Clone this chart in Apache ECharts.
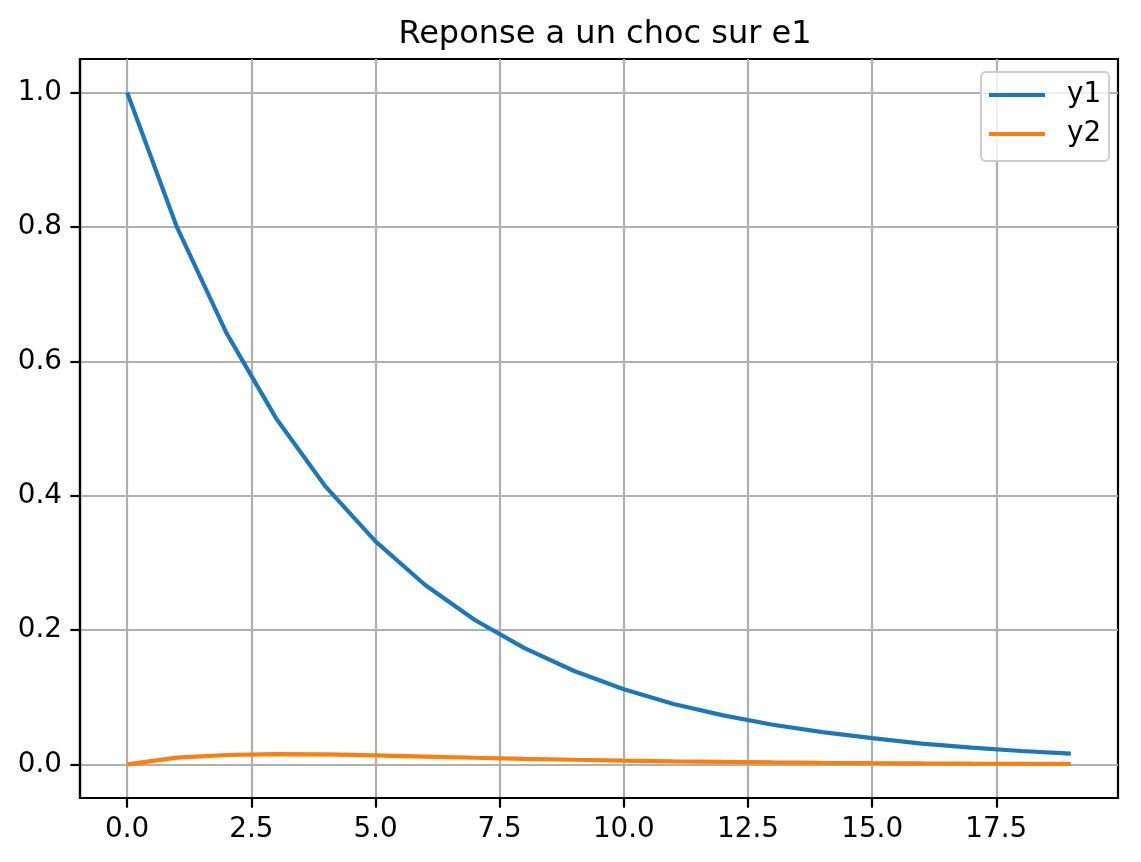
<!DOCTYPE html>
<html>
<head>
<meta charset="utf-8">
<script src="https://cdn.jsdelivr.net/npm/echarts@6/dist/echarts.min.js"></script>
<style>
html,body{margin:0;padding:0;background:#fff;}
#c{width:1141px;height:862px;}
</style>
</head>
<body>
<div id="c"></div>
<script>
const steps = [0,1,2,3,4,5,6,7,8,9,10,11,12,13,14,15,16,17,18,19];
const y1 = [1.0,0.8,0.642,0.515,0.413,0.332,0.267,0.215,0.173,0.139,0.112,0.090,0.073,0.059,0.048,0.039,0.031,0.025,0.020,0.016];
const y2 = [0,0.010,0.014,0.0152,0.0148,0.0133,0.0116,0.0099,0.0083,0.0069,0.0056,0.0046,0.0037,0.0030,0.0024,0.0019,0.0015,0.0012,0.0010,0.0008];
const xTicks = [0,2.5,5,7.5,10,12.5,15,17.5];
const yTicks = [0,0.2,0.4,0.6,0.8,1.0];
const title = 'Reponse a un choc sur e1';
const seriesNames = ['y1','y2'];

const font = 'DejaVu Sans';
const chart = echarts.init(document.getElementById('c'), null, {renderer:'canvas'});
chart.setOption({
  animation:false,
  backgroundColor:'#ffffff',
  title:{
    text:title, left:'600', top:14, textAlign:'center',
    textStyle:{fontFamily:font, fontSize:32, fontWeight:'normal', color:'#000'}
  },
  grid:{left:80, top:59, width:1038, height:739, show:true, borderColor:'#000', borderWidth:2.2, backgroundColor:'transparent', containLabel:false},
  legend:{
    orient:'vertical', left:981, top:72,
    data:seriesNames,
    icon:'rect', itemWidth:56, itemHeight:4, itemGap:11,
    padding:[9,8,13,8],
    borderColor:'#cccccc', borderWidth:2, borderRadius:5, backgroundColor:'rgba(255,255,255,0.8)',
    textStyle:{fontFamily:font, fontSize:27.8, color:'#000', padding:[0,0,0,17]}
  },
  xAxis:{
    type:'value', min:-0.95, max:19.95,
    axisLine:{show:true, onZero:false, lineStyle:{color:'#000', width:2.2}},
    axisTick:{show:true, length:9.7, inside:false, lineStyle:{color:'#000', width:2.2}, customValues:xTicks},
    axisLabel:{fontFamily:font, fontSize:27.8, color:'#000', margin:18, customValues:xTicks, formatter:v=>v.toFixed(1)},
    splitLine:{show:true, lineStyle:{color:'#b0b0b0', width:2.2}}
  },
  yAxis:{
    type:'value', min:-0.05, max:1.05,
    axisLine:{show:true, onZero:false, lineStyle:{color:'#000', width:2.2}},
    axisTick:{show:true, length:9.7, inside:false, lineStyle:{color:'#000', width:2.2}, customValues:yTicks},
    axisLabel:{fontFamily:font, fontSize:27.8, color:'#000', margin:18, customValues:yTicks, formatter:v=>v.toFixed(1)},
    splitLine:{show:true, lineStyle:{color:'#b0b0b0', width:2.2}}
  },
  series:[
    {name:seriesNames[0], type:'line', data:steps.map((s,i)=>[s,y1[i]]), showSymbol:false, symbol:'none',
     lineStyle:{color:'#1f77b4', width:4.2}, itemStyle:{color:'#1f77b4'}, z:3},
    {name:seriesNames[1], type:'line', data:steps.map((s,i)=>[s,y2[i]]), showSymbol:false, symbol:'none',
     lineStyle:{color:'#ff7f0e', width:4.2}, itemStyle:{color:'#ff7f0e'}, z:4}
  ]
});
</script>
</body>
</html>
